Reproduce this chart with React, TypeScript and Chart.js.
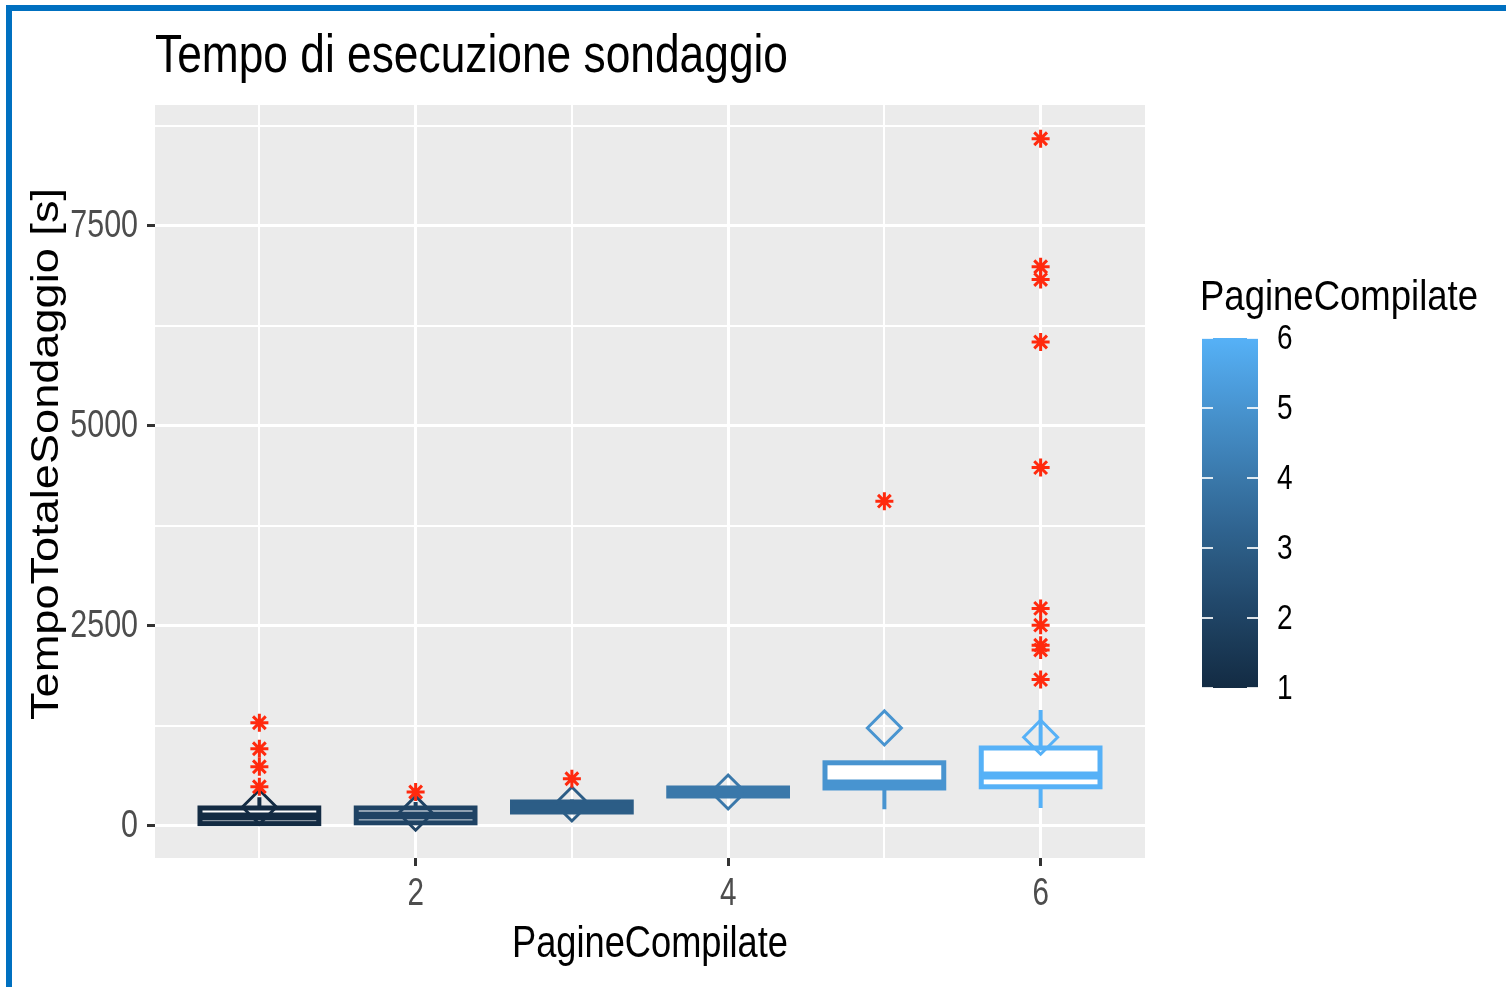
import React, { useEffect, useRef } from "react";
import { Chart, registerables } from "chart.js";

Chart.register(...registerables);

// ---------- data ----------
const pagine = [1, 2, 3, 4, 5, 6];
const q1 = [30, 40, 175, 375, 475, 490];
const median = [120, 130, 240, 425, 530, 630];
const q3 = [225, 225, 300, 475, 790, 975];
const whiskerLow = [28, 30, 150, 360, 210, 225];
const whiskerHigh = [360, 300, 330, 500, 800, 1450];
const means = [237, 160, 275, 425, 1225, 1110];
const outlierX = [1, 1, 1, 1, 2, 3, 5, 6, 6, 6, 6, 6, 6, 6, 6, 6, 6];
const outlierY = [490, 740, 965, 1290, 425, 590, 4060, 8590, 6990, 6830, 6050, 4480, 2720, 2510, 2260, 2200, 1830];

const yTicks = [0, 1250, 2500, 3750, 5000, 6250, 7500, 8750];
const yLabelled = [0, 2500, 5000, 7500];
const xTicks = [1, 2, 3, 4, 5, 6];
const xLabelled = [2, 4, 6];
const legendTicks = [1, 2, 3, 4, 5, 6];

const TITLE = "Tempo di esecuzione sondaggio";
const X_TITLE = "PagineCompilate";
const Y_TITLE = "TempoTotaleSondaggio [s]";
const LEGEND_TITLE = "PagineCompilate";

const LOW = "#132B43";
const HIGH = "#56B1F7";
const OUTLIER = "#FF2A0E";
const FONT = '"Liberation Sans", Arial, Helvetica, sans-serif';

// ---------- colour helpers (Lab interpolation like ggplot) ----------
function hexToRgb(h: string) {
  const n = parseInt(h.slice(1), 16);
  return [(n >> 16) & 255, (n >> 8) & 255, n & 255];
}
function toLin(c: number) {
  c /= 255;
  return c <= 0.04045 ? c / 12.92 : Math.pow((c + 0.055) / 1.055, 2.4);
}
function fromLin(c: number) {
  const v = c <= 0.0031308 ? 12.92 * c : 1.055 * Math.pow(c, 1 / 2.4) - 0.055;
  return Math.round(Math.max(0, Math.min(1, v)) * 255);
}
const Xn = 0.95047, Yn = 1, Zn = 1.08883;
function f(t: number) {
  return t > 0.008856 ? Math.cbrt(t) : 7.787 * t + 16 / 116;
}
function finv(t: number) {
  return t * t * t > 0.008856 ? t * t * t : (t - 16 / 116) / 7.787;
}
function rgbToLab(rgb: number[]) {
  const [r, g, b] = rgb.map(toLin);
  const X = 0.4124564 * r + 0.3575761 * g + 0.1804375 * b;
  const Y = 0.2126729 * r + 0.7151522 * g + 0.072175 * b;
  const Z = 0.0193339 * r + 0.119192 * g + 0.9503041 * b;
  const fx = f(X / Xn), fy = f(Y / Yn), fz = f(Z / Zn);
  return [116 * fy - 16, 500 * (fx - fy), 200 * (fy - fz)];
}
function labToRgb(lab: number[]) {
  const fy = (lab[0] + 16) / 116;
  const fx = fy + lab[1] / 500;
  const fz = fy - lab[2] / 200;
  const X = Xn * finv(fx), Y = Yn * finv(fy), Z = Zn * finv(fz);
  const r = 3.2404542 * X - 1.5371385 * Y - 0.4985314 * Z;
  const g = -0.969266 * X + 1.8760108 * Y + 0.041556 * Z;
  const b = 0.0556434 * X - 0.2040259 * Y + 1.0572252 * Z;
  return `rgb(${fromLin(r)},${fromLin(g)},${fromLin(b)})`;
}
const labLow = rgbToLab(hexToRgb(LOW));
const labHigh = rgbToLab(hexToRgb(HIGH));
function colourFor(v: number) {
  const t = (v - 1) / 5;
  return labToRgb(labLow.map((c, i) => c + (labHigh[i] - c) * t));
}
const boxColours = pagine.map(colourFor);

// ---------- text helper ----------
function drawText(
  ctx: CanvasRenderingContext2D,
  text: string,
  x: number,
  y: number,
  size: number,
  color: string,
  opts: { align?: CanvasTextAlign; baseline?: CanvasTextBaseline; rotate?: number; sx?: number; width?: number } = {}
) {
  ctx.save();
  ctx.font = `${size}px ${FONT}`;
  ctx.fillStyle = color;
  ctx.textAlign = opts.align || "left";
  ctx.textBaseline = opts.baseline || "alphabetic";
  ctx.translate(x, y);
  if (opts.rotate) ctx.rotate(opts.rotate);
  let sx = opts.sx ?? 1;
  if (opts.width) sx = opts.width / ctx.measureText(text).width;
  ctx.scale(sx, 1);
  ctx.fillText(text, 0, 0);
  ctx.restore();
}

// ---------- plugins ----------
const panelPlugin = {
  id: "panel",
  beforeDraw(chart: any) {
    const { ctx, chartArea: a } = chart;
    ctx.save();
    ctx.fillStyle = "#EBEBEB";
    ctx.fillRect(a.left, a.top, a.right - a.left, a.bottom - a.top);
    ctx.restore();
  },
};

const boxPlugin = {
  id: "boxes",
  beforeDatasetsDraw(chart: any) {
    const { ctx } = chart;
    const xs = chart.scales.x;
    const ys = chart.scales.y;
    ctx.save();
    pagine.forEach((p, i) => {
      const cx = xs.getPixelForValue(p);
      const hw = xs.getPixelForValue(p + 0.38) - cx;
      const col = boxColours[i];
      const yq1 = ys.getPixelForValue(q1[i]);
      const yq3 = ys.getPixelForValue(q3[i]);
      const ymed = ys.getPixelForValue(median[i]);
      const ylo = ys.getPixelForValue(whiskerLow[i]);
      const yhi = ys.getPixelForValue(whiskerHigh[i]);
      ctx.strokeStyle = col;
      ctx.lineWidth = 4;
      ctx.beginPath();
      ctx.moveTo(cx, yq3);
      ctx.lineTo(cx, yhi);
      ctx.moveTo(cx, yq1);
      ctx.lineTo(cx, ylo);
      ctx.stroke();
      ctx.fillStyle = "#FFFFFF";
      ctx.fillRect(cx - hw, yq3, 2 * hw, yq1 - yq3);
      ctx.lineWidth = 5;
      ctx.strokeRect(cx - hw, yq3, 2 * hw, yq1 - yq3);
      ctx.lineWidth = 8;
      ctx.beginPath();
      ctx.moveTo(cx - hw, ymed);
      ctx.lineTo(cx + hw, ymed);
      ctx.stroke();
    });
    ctx.restore();
  },
};

const decorPlugin = {
  id: "decor",
  afterDraw(chart: any) {
    const { ctx, chartArea: a } = chart;
    const xs = chart.scales.x;
    const ys = chart.scales.y;
    const tickCol = "#4D4D4D";

    // title
    drawText(ctx, TITLE, a.left, 72, 54, "#000000", { width: 633 });

    // y tick labels
    yLabelled.forEach((v) => {
      drawText(ctx, String(v), a.left - 17, ys.getPixelForValue(v), 39, tickCol, {
        align: "right",
        baseline: "middle",
        sx: 0.78,
      });
    });
    // x tick labels
    xLabelled.forEach((v) => {
      drawText(ctx, String(v), xs.getPixelForValue(v), 905, 39, tickCol, {
        align: "center",
        sx: 0.76,
      });
    });

    // axis titles
    drawText(ctx, X_TITLE, 512, 957, 44, "#000000", { width: 276 });
    drawText(ctx, Y_TITLE, 58, 720, 39, "#000000", { rotate: -Math.PI / 2, width: 532 });

    // legend colourbar
    const barL = 1202, barR = 1258, barTop = 338, barBot = 688;
    const yFor = (v: number) => barBot - ((v - 1) / 5) * (barBot - barTop);
    const grad = ctx.createLinearGradient(0, barBot, 0, barTop);
    for (let k = 0; k <= 20; k++) {
      grad.addColorStop(k / 20, colourFor(1 + (5 * k) / 20));
    }
    ctx.save();
    ctx.fillStyle = grad;
    ctx.fillRect(barL, barTop, barR - barL, barBot - barTop);
    ctx.strokeStyle = "rgba(255,255,255,0.85)";
    ctx.lineWidth = 2;
    legendTicks.forEach((v) => {
      const y = yFor(v);
      ctx.beginPath();
      ctx.moveTo(barL, y);
      ctx.lineTo(barL + 11, y);
      ctx.moveTo(barR - 11, y);
      ctx.lineTo(barR, y);
      ctx.stroke();
    });
    ctx.restore();
    legendTicks.forEach((v) => {
      drawText(ctx, String(v), 1277, yFor(v) + 1, 35, "#000000", {
        baseline: "middle",
        sx: 0.8,
      });
    });
    drawText(ctx, LEGEND_TITLE, 1200, 310, 42, "#000000", { width: 278 });

    // blue frame
    ctx.save();
    ctx.fillStyle = "#0070C0";
    ctx.fillRect(6, 5, 1500, 6);
    ctx.fillRect(6, 5, 6, 982);
    ctx.restore();
  },
};

export default function App() {
  const ref = useRef<HTMLCanvasElement>(null);

  useEffect(() => {
    document.body.style.margin = "0";
    const canvas = ref.current!;
    const chart = new Chart(canvas, {
      type: "scatter",
      data: {
        datasets: [
          {
            label: "outliers",
            data: outlierX.map((x, i) => ({ x, y: outlierY[i] })),
            pointStyle: "star",
            pointRadius: 9,
            pointBorderWidth: 3,
            pointBorderColor: OUTLIER,
            pointBackgroundColor: OUTLIER,
            showLine: false,
          },
          {
            label: "mean",
            data: pagine.map((x, i) => ({ x, y: means[i] })),
            pointStyle: "rectRot",
            pointRadius: 17,
            pointBorderWidth: 3,
            pointBorderColor: boxColours,
            pointBackgroundColor: "rgba(0,0,0,0)",
            showLine: false,
          },
        ],
      },
      options: {
        animation: false,
        responsive: false,
        devicePixelRatio: 1,
        events: [],
        layout: { padding: { top: 105, right: 361, left: 0, bottom: 0 } },
        plugins: {
          legend: { display: false },
          tooltip: { enabled: false },
          title: { display: false },
        },
        scales: {
          x: {
            type: "linear",
            min: 0.332,
            max: 6.668,
            border: { display: false },
            afterBuildTicks: (scale: any) => {
              scale.ticks = xTicks.map((v) => ({ value: v }));
            },
            afterFit: (scale: any) => {
              scale.height = 129;
            },
            ticks: { display: false },
            grid: {
              color: "#FFFFFF",
              lineWidth: (c: any) => (xLabelled.includes(c.tick?.value) ? 3 : 2),
              tickColor: (c: any) => (xLabelled.includes(c.tick?.value) ? "#333333" : "rgba(0,0,0,0)"),
              tickWidth: 3,
              tickLength: 8,
              drawTicks: true,
            },
          },
          y: {
            type: "linear",
            min: -400,
            max: 9012,
            border: { display: false },
            afterBuildTicks: (scale: any) => {
              scale.ticks = yTicks.map((v) => ({ value: v }));
            },
            afterFit: (scale: any) => {
              scale.width = 155;
            },
            ticks: { display: false },
            grid: {
              color: "#FFFFFF",
              lineWidth: (c: any) => (yLabelled.includes(c.tick?.value) ? 3 : 2),
              tickColor: (c: any) => (yLabelled.includes(c.tick?.value) ? "#333333" : "rgba(0,0,0,0)"),
              tickWidth: 3,
              tickLength: 8,
              drawTicks: true,
            },
          },
        },
      },
      plugins: [panelPlugin, boxPlugin, decorPlugin],
    } as any);
    return () => chart.destroy();
  }, []);

  return (
    <canvas
      ref={ref}
      width={1506}
      height={987}
      style={{ display: "block", width: 1506, height: 987 }}
    />
  );
}
